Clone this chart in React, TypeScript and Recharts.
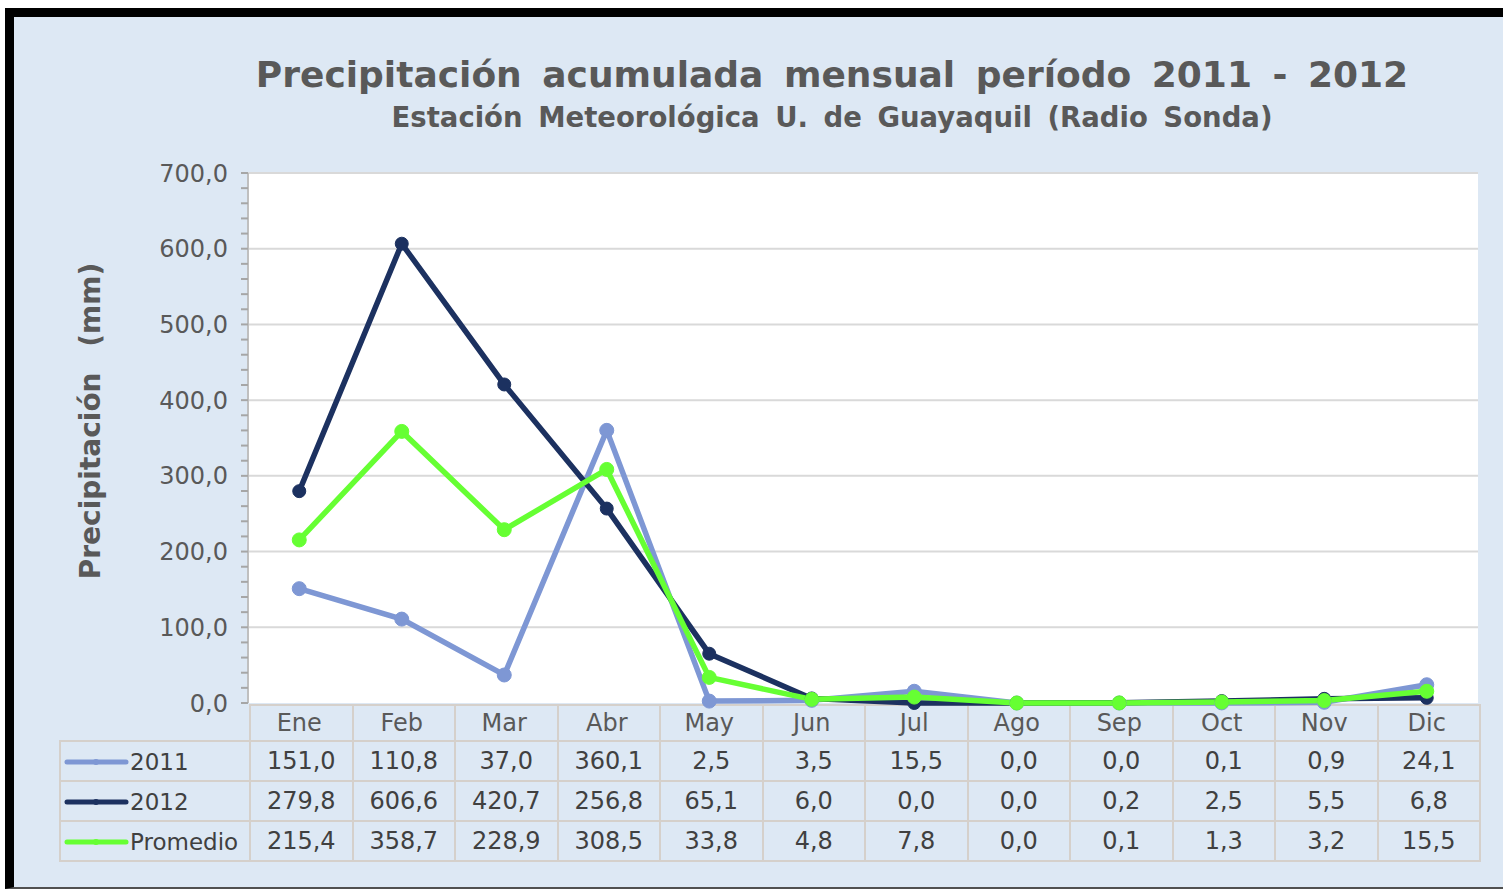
import React from 'react';
import { LineChart, Line, XAxis, YAxis, CartesianGrid, ReferenceLine } from 'recharts';

const MONTHS = ['Ene', 'Feb', 'Mar', 'Abr', 'May', 'Jun', 'Jul', 'Ago', 'Sep', 'Oct', 'Nov', 'Dic'];
const VALUES_2011 = [151.0, 110.8, 37.0, 360.1, 2.5, 3.5, 15.5, 0.0, 0.0, 0.1, 0.9, 24.1];
const VALUES_2012 = [279.8, 606.6, 420.7, 256.8, 65.1, 6.0, 0.0, 0.0, 0.2, 2.5, 5.5, 6.8];
const VALUES_PROMEDIO = [215.4, 358.7, 228.9, 308.5, 33.8, 4.8, 7.8, 0.0, 0.1, 1.3, 3.2, 15.5];
const Y_MAJOR_TICKS = [0, 100, 200, 300, 400, 500, 600, 700];

// minor tick marks every 20 mm, labels only on the major ones
const Y_ALL_TICKS = Array.from({ length: 36 }, (_, i) => i * 20);

const SERIES = [
  { key: 'y2011', name: '2011', values: VALUES_2011, color: '#7e97d4', r: 7 },
  { key: 'y2012', name: '2012', values: VALUES_2012, color: '#1c3160', r: 6.5 },
  { key: 'promedio', name: 'Promedio', values: VALUES_PROMEDIO, color: '#66ff33', r: 7 },
];

const data = MONTHS.map((mes, i) => ({
  mes,
  y2011: VALUES_2011[i],
  y2012: VALUES_2012[i],
  promedio: VALUES_PROMEDIO[i],
}));

const FONT = '"DejaVu Sans", Verdana, sans-serif';
const TEXT = '#595959';
const BORDER = '#d5d0cb';
const COL_W = 1230 / 12;

const fmt = (v: number) => v.toFixed(1).replace('.', ',');

const YTick = (props: any) => {
  const { x, y, payload } = props;
  if (payload.value % 100 !== 0) return null;
  return (
    <text x={x} y={y} dy="0.36em" textAnchor="end" fill={TEXT} fontSize={24} fontFamily={FONT}>
      {fmt(payload.value)}
    </text>
  );
};

function Swatch({ color }: { color: string }) {
  return (
    <svg width={66} height={14} style={{ verticalAlign: 'middle', marginRight: 1 }}>
      <line x1={4} y1={7} x2={63} y2={7} stroke={color} strokeWidth={5} strokeLinecap="round" />
      <circle cx={33} cy={7} r={3} fill={color} />
    </svg>
  );
}

const cell: React.CSSProperties = {
  border: `2px solid ${BORDER}`,
  textAlign: 'center',
  padding: 0,
  whiteSpace: 'nowrap',
};

export default function App() {
  return (
    <div
      style={{
        position: 'absolute',
        left: 0,
        top: 0,
        width: 1503,
        height: 891,
        overflow: 'hidden',
        background: '#fff',
        fontFamily: FONT,
      }}
    >
      <div
        style={{
          position: 'absolute',
          left: 5,
          top: 8,
          width: 1520,
          height: 870,
          background: '#dde8f4',
          borderTop: '9px solid #000',
          borderLeft: '9px solid #000',
          borderBottom: '2px solid #505050',
        }}
      />

      <div
        style={{
          position: 'absolute',
          left: 0,
          width: 1664,
          top: 53,
          lineHeight: '44px',
          fontSize: 36,
          fontWeight: 'bold',
          color: TEXT,
          textAlign: 'center',
          whiteSpace: 'nowrap',
          wordSpacing: 8,
        }}
      >
        Precipitación acumulada mensual período 2011 - 2012
      </div>
      <div
        style={{
          position: 'absolute',
          left: 0,
          width: 1664,
          top: 101,
          lineHeight: '32px',
          fontSize: 27.5,
          fontWeight: 'bold',
          color: TEXT,
          textAlign: 'center',
          whiteSpace: 'nowrap',
          wordSpacing: 6,
        }}
      >
        Estación Meteorológica U. de Guayaquil (Radio Sonda)
      </div>
      <div
        style={{
          position: 'absolute',
          left: 90,
          top: 421,
          transform: 'translate(-50%, -50%) rotate(-90deg)',
          fontSize: 28,
          fontWeight: 'bold',
          color: TEXT,
          whiteSpace: 'nowrap',
          wordSpacing: 16,
        }}
      >
        Precipitación (mm)
      </div>

      <table
        style={{
          position: 'absolute',
          left: 59,
          top: 704,
          width: 1420,
          borderCollapse: 'collapse',
          tableLayout: 'fixed',
          fontSize: 24,
          color: '#404040',
        }}
      >
        <colgroup>
          <col style={{ width: 190 }} />
          {MONTHS.map((m) => (
            <col key={m} style={{ width: COL_W }} />
          ))}
        </colgroup>
        <tbody>
          <tr style={{ height: 36 }}>
            <td style={{ border: 'none', padding: 0 }} />
            {MONTHS.map((m) => (
              <td key={m} style={cell} />
            ))}
          </tr>
          {SERIES.map((s) => (
            <tr key={s.key} style={{ height: 40 }}>
              <td style={{ ...cell, textAlign: 'left', paddingLeft: 2, fontSize: 23 }}>
                <Swatch color={s.color} />
                <span style={{ verticalAlign: 'middle' }}>{s.name}</span>
              </td>
              {s.values.map((v, i) => (
                <td key={i} style={cell}>
                  {fmt(v)}
                </td>
              ))}
            </tr>
          ))}
        </tbody>
      </table>

      <div style={{ position: 'absolute', left: 0, top: 0 }}>
        <LineChart width={1503} height={891} data={data} margin={{ top: 173, right: 25, bottom: 151, left: 148 }}>
          <CartesianGrid fill="#ffffff" horizontal={false} vertical={false} stroke="none" />
          {Y_MAJOR_TICKS.slice(1).map((t) => (
            <ReferenceLine key={t} y={t} stroke="#d9d9d9" strokeWidth={2} />
          ))}
          <XAxis
            dataKey="mes"
            height={37}
            axisLine={false}
            tickLine={false}
            interval={0}
            tickMargin={5}
            padding={{ left: COL_W / 2, right: COL_W / 2 }}
            tick={{ fill: TEXT, fontSize: 24, fontFamily: FONT }}
          />
          <YAxis
            width={100}
            domain={[0, 700]}
            ticks={Y_ALL_TICKS}
            interval={0}
            tick={YTick}
            tickSize={7}
            tickMargin={13}
            axisLine={{ stroke: '#bfbfbf', strokeWidth: 2 }}
            tickLine={{ stroke: '#a6a6a6', strokeWidth: 2 }}
          />
          {SERIES.map((s) => (
            <Line
              key={s.key}
              dataKey={s.key}
              name={s.name}
              type="linear"
              stroke={s.color}
              strokeWidth={5.5}
              dot={{ r: s.r, fill: s.color, stroke: s.color, strokeWidth: 1 }}
              activeDot={false}
              isAnimationActive={false}
            />
          ))}
        </LineChart>
      </div>
    </div>
  );
}
